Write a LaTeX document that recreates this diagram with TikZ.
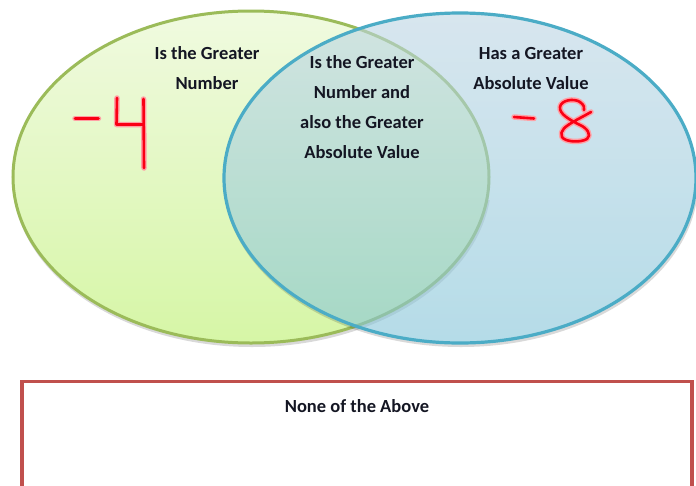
\documentclass[tikz,border=0pt]{standalone}
\usepackage{fontspec}
\setmainfont{Carlito}
\definecolor{grnline}{RGB}{155,187,89}
\definecolor{grntop}{RGB}{240,250,224}
\definecolor{grnbot}{RGB}{214,246,166}
\definecolor{bluline}{RGB}{75,172,198}
\definecolor{blutop}{RGB}{190,214,228}
\definecolor{blubot}{RGB}{132,197,217}
\definecolor{boxline}{RGB}{192,80,77}
\definecolor{txt}{RGB}{20,22,35}
\definecolor{hand}{RGB}{250,0,20}
\definecolor{handglow}{RGB}{255,160,165}
\tikzset{
  lbl/.style={font=\bfseries\fontsize{18.5}{30}\selectfont, text=txt, align=center, inner sep=0pt},
  handglowline/.style={draw=handglow, line width=5.5pt, line cap=round, line join=round},
  handline/.style={draw=hand, line width=2.6pt, line cap=round, line join=round},
  shadowline/.style={draw=black, draw opacity=0.15, line width=3pt}
}
\begin{document}
\begin{tikzpicture}[x=1pt,y=-1pt]
\useasboundingbox (0,0) rectangle (696,485);
\clip (0,0) rectangle (696,485);
\fill[white] (0,0) rectangle (696,485);
% left (green) set
\begin{scope}
  \clip (0,200) rectangle (696,360);
  \path[shadowline] (252,179.5) ellipse [x radius=238, y radius=166];
\end{scope}
\shade[top color=grntop, bottom color=grnbot] (251,177) ellipse [x radius=238, y radius=166];
\draw[grnline, line width=3pt] (251,177) ellipse [x radius=238, y radius=166];
% right (blue) set
\begin{scope}
  \clip (0,200) rectangle (696,360);
  \path[shadowline] (461,180.5) ellipse [x radius=236, y radius=165];
\end{scope}
\shade[top color=blutop, bottom color=blubot, fill opacity=0.6] (460,178) ellipse [x radius=236, y radius=165];
\draw[bluline, line width=3.2pt] (460,178) ellipse [x radius=236, y radius=165];
% labels
\node[lbl] (greater) at (207,68) {Is the Greater\\Number};
\node[lbl] (both) at (362,107) {Is the Greater\\Number and\\also the Greater\\Absolute Value};
\node[lbl] (absval) at (531,68) {Has a Greater\\Absolute Value};
% handwritten -4
\foreach \s in {handglowline,handline}{
  \path[\s] (75,118.5) -- (98.5,118.5);
  \path[\s] (117,98) -- (116.5,124.5) -- (143,124.5);
  \path[\s] (143.5,99) -- (144,168);
}
% handwritten -8
\foreach \s in {handglowline,handline}{
  \path[\s] (514,117) -- (534,118.5);
  \path[\s] (591,112) .. controls (584,116) and (578,119) .. (573,122)
     .. controls (566,126) and (559,131) .. (562,137)
     .. controls (565,142) and (580,143) .. (587,139)
     .. controls (592,135) and (587,128) .. (580,125)
     .. controls (570,120) and (559,114) .. (560,107)
     .. controls (561,100) and (574,98) .. (580,102)
     .. controls (584,105) and (585,108) .. (584,110);
}
% none of the above box
\draw[boxline, line width=3.5pt] (22,381.5) rectangle (692,500);
\node[lbl] (none) at (357,406) {None of the Above};
\end{tikzpicture}
\end{document}
